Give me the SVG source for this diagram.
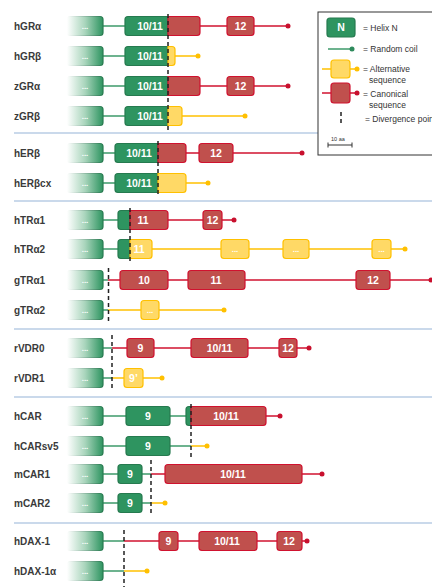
<svg xmlns="http://www.w3.org/2000/svg" width="432" height="587" viewBox="0 0 432 587">
<defs>
<linearGradient id="gf" x1="0" y1="0" x2="1" y2="0">
<stop offset="0" stop-color="#ffffff"/>
<stop offset="0.5" stop-color="#a9d5bc"/>
<stop offset="1" stop-color="#2e9460"/>
</linearGradient>
<linearGradient id="gs" x1="0" y1="0" x2="1" y2="0">
<stop offset="0" stop-color="#ffffff"/>
<stop offset="1" stop-color="#267a4f"/>
</linearGradient>
</defs>
<style>
.grad{fill:url(#gf);stroke:url(#gs);stroke-width:1.2}
.g{fill:#2e9460;stroke:#267a4f;stroke-width:1.2}
.r{fill:#c0504d;stroke:#d0122f;stroke-width:1.2}
.y{fill:#ffd966;stroke:#ffc000;stroke-width:1.2}
.lg{stroke:#3d9a6a;stroke-width:1.5;fill:none}
.lr{stroke:#d0122f;stroke-width:1.5;fill:none}
.ly{stroke:#ffc000;stroke-width:1.5;fill:none}
.dg{fill:#2e8a5c}
.dr{fill:#c8102e}
.dy{fill:#ffc000}
.dash{stroke:#222;stroke-width:1.5;stroke-dasharray:4 3}
.sep{stroke:#95b3d7;stroke-width:1.2}
.lab{font-family:"Liberation Sans",Arial,sans-serif;font-weight:bold;font-size:10px;fill:#3a3a3a}
.bt{font-family:"Liberation Sans",Arial,sans-serif;font-weight:bold;font-size:10.5px;fill:#fff;text-anchor:middle}
.dots{font-family:"Liberation Sans",Arial,sans-serif;font-weight:bold;font-size:8px;fill:#fff;text-anchor:middle}
.leg{font-family:"Liberation Sans",Arial,sans-serif;font-size:8.5px;fill:#333}
</style>
<rect width="432" height="587" fill="#fff"/>

<g id="separators">
<line class="sep" x1="14" y1="133" x2="318" y2="133"/>
<line class="sep" x1="14" y1="201" x2="432" y2="201"/>
<line class="sep" x1="14" y1="329" x2="432" y2="329"/>
<line class="sep" x1="14" y1="397" x2="432" y2="397"/>
<line class="sep" x1="14" y1="523" x2="432" y2="523"/>
</g>

<g id="connectors">
<line class="lg" x1="103" y1="26" x2="125" y2="26"/>
<line class="lr" x1="200" y1="26" x2="227" y2="26"/>
<line class="lr" x1="254" y1="26" x2="288" y2="26"/><circle class="dr" cx="288" cy="26" r="2.5"/>
<line class="lg" x1="103" y1="56" x2="125" y2="56"/>
<line class="ly" x1="175" y1="56" x2="198" y2="56"/><circle class="dy" cx="198" cy="56" r="2.5"/>
<line class="lg" x1="103" y1="86" x2="125" y2="86"/>
<line class="lr" x1="200" y1="86" x2="227" y2="86"/>
<line class="lr" x1="254" y1="86" x2="288" y2="86"/><circle class="dr" cx="288" cy="86" r="2.5"/>
<line class="lg" x1="103" y1="116" x2="125" y2="116"/>
<line class="ly" x1="182" y1="116" x2="245" y2="116"/><circle class="dy" cx="245" cy="116" r="2.5"/>
<line class="lg" x1="103" y1="153" x2="115" y2="153"/>
<line class="lr" x1="186" y1="153" x2="199" y2="153"/>
<line class="lr" x1="233" y1="153" x2="302" y2="153"/><circle class="dr" cx="302" cy="153" r="2.5"/>
<line class="lg" x1="103" y1="183" x2="115" y2="183"/>
<line class="ly" x1="186" y1="183" x2="208" y2="183"/><circle class="dy" cx="208" cy="183" r="2.5"/>
<line class="lg" x1="103" y1="220" x2="118" y2="220"/>
<line class="lr" x1="168" y1="220" x2="203" y2="220"/>
<line class="lr" x1="222" y1="220" x2="234" y2="220"/><circle class="dr" cx="234" cy="220" r="2.5"/>
<line class="lg" x1="103" y1="249" x2="118" y2="249"/>
<line class="ly" x1="152" y1="249" x2="221" y2="249"/>
<line class="ly" x1="249" y1="249" x2="283" y2="249"/>
<line class="ly" x1="309" y1="249" x2="372" y2="249"/>
<line class="ly" x1="391" y1="249" x2="405" y2="249"/><circle class="dy" cx="405" cy="249" r="2.5"/>
<line class="lg" x1="103" y1="280" x2="108" y2="280"/>
<line class="lr" x1="108" y1="280" x2="120" y2="280"/>
<line class="lr" x1="168" y1="280" x2="188" y2="280"/>
<line class="lr" x1="245" y1="280" x2="356" y2="280"/>
<line class="lr" x1="390" y1="280" x2="431" y2="280"/><circle class="dr" cx="431" cy="280" r="2.5"/>
<line class="lg" x1="103" y1="310" x2="108" y2="310"/>
<line class="ly" x1="108" y1="310" x2="141" y2="310"/>
<line class="ly" x1="159" y1="310" x2="224" y2="310"/><circle class="dy" cx="224" cy="310" r="2.5"/>
<line class="lg" x1="103" y1="348" x2="112" y2="348"/>
<line class="lr" x1="112" y1="348" x2="127" y2="348"/>
<line class="lr" x1="154" y1="348" x2="191" y2="348"/>
<line class="lr" x1="248" y1="348" x2="279" y2="348"/>
<line class="lr" x1="297" y1="348" x2="309" y2="348"/><circle class="dr" cx="309" cy="348" r="2.5"/>
<line class="lg" x1="103" y1="378" x2="112" y2="378"/>
<line class="ly" x1="112" y1="378" x2="124" y2="378"/>
<line class="ly" x1="143" y1="378" x2="162" y2="378"/><circle class="dy" cx="162" cy="378" r="2.5"/>
<line class="lg" x1="103" y1="416" x2="126" y2="416"/>
<line class="lg" x1="170" y1="416" x2="186" y2="416"/>
<line class="lr" x1="266" y1="416" x2="280" y2="416"/><circle class="dr" cx="280" cy="416" r="2.5"/>
<line class="lg" x1="103" y1="446" x2="126" y2="446"/>
<line class="lg" x1="170" y1="446" x2="191" y2="446"/>
<line class="ly" x1="191" y1="446" x2="207" y2="446"/><circle class="dy" cx="207" cy="446" r="2.5"/>
<line class="lg" x1="103" y1="474" x2="118" y2="474"/>
<line class="lg" x1="142" y1="474" x2="151" y2="474"/>
<line class="lr" x1="151" y1="474" x2="165" y2="474"/>
<line class="lr" x1="302" y1="474" x2="322" y2="474"/><circle class="dr" cx="322" cy="474" r="2.5"/>
<line class="lg" x1="103" y1="503" x2="118" y2="503"/>
<line class="lg" x1="142" y1="503" x2="151" y2="503"/>
<line class="ly" x1="151" y1="503" x2="165" y2="503"/><circle class="dy" cx="165" cy="503" r="2.5"/>
<line class="lg" x1="103" y1="541" x2="124" y2="541"/>
<line class="lr" x1="124" y1="541" x2="159" y2="541"/>
<line class="lr" x1="178" y1="541" x2="199" y2="541"/>
<line class="lr" x1="257" y1="541" x2="277" y2="541"/>
<line class="lr" x1="302" y1="541" x2="307" y2="541"/><circle class="dr" cx="307" cy="541" r="2.5"/>
<line class="lg" x1="103" y1="571" x2="124" y2="571"/>
<line class="ly" x1="124" y1="571" x2="147" y2="571"/><circle class="dy" cx="147" cy="571" r="2.5"/>
</g>

<g id="hGRa">
<text class="lab" x="14" y="30">hGRα</text>
<rect class="grad" x="67" y="16.5" width="36" height="19" rx="3"/><text class="dots" x="85" y="29">...</text>
<path class="g" d="M168 16.5H128Q125 16.5 125 19.5V32.5Q125 35.5 128 35.5H168Z"/>
<path class="r" d="M168 16.5H197Q200 16.5 200 19.5V32.5Q200 35.5 197 35.5H168Z"/>
<text class="bt" x="150" y="30">10/11</text>
<rect class="r" x="227" y="16.5" width="27" height="19" rx="3"/><text class="bt" x="240.5" y="30">12</text>
</g>
<g id="hGRb">
<text class="lab" x="14" y="60">hGRβ</text>
<rect class="grad" x="67" y="46.5" width="36" height="19" rx="3"/><text class="dots" x="85" y="59">...</text>
<path class="g" d="M168 46.5H128Q125 46.5 125 49.5V62.5Q125 65.5 128 65.5H168Z"/>
<path class="y" d="M168 46.5H172Q175 46.5 175 49.5V62.5Q175 65.5 172 65.5H168Z"/>
<text class="bt" x="150" y="60">10/11</text>
</g>
<g id="zGRa">
<text class="lab" x="14" y="90">zGRα</text>
<rect class="grad" x="67" y="76.5" width="36" height="19" rx="3"/><text class="dots" x="85" y="89">...</text>
<path class="g" d="M168 76.5H128Q125 76.5 125 79.5V92.5Q125 95.5 128 95.5H168Z"/>
<path class="r" d="M168 76.5H197Q200 76.5 200 79.5V92.5Q200 95.5 197 95.5H168Z"/>
<text class="bt" x="150" y="90">10/11</text>
<rect class="r" x="227" y="76.5" width="27" height="19" rx="3"/><text class="bt" x="240.5" y="90">12</text>
</g>
<g id="zGRb">
<text class="lab" x="14" y="120">zGRβ</text>
<rect class="grad" x="67" y="106.5" width="36" height="19" rx="3"/><text class="dots" x="85" y="119">...</text>
<path class="g" d="M168 106.5H128Q125 106.5 125 109.5V122.5Q125 125.5 128 125.5H168Z"/>
<path class="y" d="M168 106.5H179Q182 106.5 182 109.5V122.5Q182 125.5 179 125.5H168Z"/>
<text class="bt" x="150" y="120">10/11</text>
</g>

<g id="hERb">
<text class="lab" x="14" y="157">hERβ</text>
<rect class="grad" x="67" y="143.5" width="36" height="19" rx="3"/><text class="dots" x="85" y="156">...</text>
<path class="g" d="M158 143.5H118Q115 143.5 115 146.5V159.5Q115 162.5 118 162.5H158Z"/>
<path class="r" d="M158 143.5H183Q186 143.5 186 146.5V159.5Q186 162.5 183 162.5H158Z"/>
<text class="bt" x="139" y="157">10/11</text>
<rect class="r" x="199" y="143.5" width="34" height="19" rx="3"/><text class="bt" x="216" y="157">12</text>
</g>
<g id="hERbcx">
<text class="lab" x="14" y="187">hERβcx</text>
<rect class="grad" x="67" y="173.5" width="36" height="19" rx="3"/><text class="dots" x="85" y="186">...</text>
<path class="g" d="M158 173.5H118Q115 173.5 115 176.5V189.5Q115 192.5 118 192.5H158Z"/>
<path class="y" d="M158 173.5H183Q186 173.5 186 176.5V189.5Q186 192.5 183 192.5H158Z"/>
<text class="bt" x="139" y="187">10/11</text>
</g>

<g id="hTRa1">
<text class="lab" x="14" y="224">hTRα1</text>
<rect class="grad" x="67" y="210.5" width="36" height="19" rx="3"/><text class="dots" x="85" y="223">...</text>
<path class="g" d="M130 210.5H121Q118 210.5 118 213.5V226.5Q118 229.5 121 229.5H130Z"/>
<path class="r" d="M130 210.5H165Q168 210.5 168 213.5V226.5Q168 229.5 165 229.5H130Z"/>
<text class="bt" x="143" y="224">11</text>
<rect class="r" x="203" y="210.5" width="19" height="19" rx="3"/><text class="bt" x="212.5" y="224">12</text>
</g>
<g id="hTRa2">
<text class="lab" x="14" y="253">hTRα2</text>
<rect class="grad" x="67" y="239.5" width="36" height="19" rx="3"/><text class="dots" x="85" y="252">...</text>
<path class="g" d="M130 239.5H121Q118 239.5 118 242.5V255.5Q118 258.5 121 258.5H130Z"/>
<path class="y" d="M130 239.5H149Q152 239.5 152 242.5V255.5Q152 258.5 149 258.5H130Z"/>
<text class="bt" x="139" y="253">11</text>
<rect class="y" x="221" y="239.5" width="28" height="19" rx="3"/><text class="dots" x="235" y="252">...</text>
<rect class="y" x="283" y="239.5" width="26" height="19" rx="3"/><text class="dots" x="296" y="252">...</text>
<rect class="y" x="372" y="239.5" width="19" height="19" rx="3"/><text class="dots" x="381.5" y="252">...</text>
</g>
<g id="gTRa1">
<text class="lab" x="14" y="284">gTRα1</text>
<rect class="grad" x="67" y="270.5" width="36" height="19" rx="3"/><text class="dots" x="85" y="283">...</text>
<rect class="r" x="120" y="270.5" width="48" height="19" rx="3"/><text class="bt" x="144" y="284">10</text>
<rect class="r" x="188" y="270.5" width="57" height="19" rx="3"/><text class="bt" x="216" y="284">11</text>
<rect class="r" x="356" y="270.5" width="34" height="19" rx="3"/><text class="bt" x="373" y="284">12</text>
</g>
<g id="gTRa2">
<text class="lab" x="14" y="314">gTRα2</text>
<rect class="grad" x="67" y="300.5" width="36" height="19" rx="3"/><text class="dots" x="85" y="313">...</text>
<rect class="y" x="141" y="300.5" width="18" height="19" rx="3"/><text class="dots" x="150" y="313">...</text>
</g>

<g id="rVDR0">
<text class="lab" x="14" y="352">rVDR0</text>
<rect class="grad" x="67" y="338.5" width="36" height="19" rx="3"/><text class="dots" x="85" y="351">...</text>
<rect class="r" x="127" y="338.5" width="27" height="19" rx="3"/><text class="bt" x="140.5" y="352">9</text>
<rect class="r" x="191" y="338.5" width="57" height="19" rx="3"/><text class="bt" x="219.5" y="352">10/11</text>
<rect class="r" x="279" y="338.5" width="18" height="19" rx="3"/><text class="bt" x="288" y="352">12</text>
</g>
<g id="rVDR1">
<text class="lab" x="14" y="382">rVDR1</text>
<rect class="grad" x="67" y="368.5" width="36" height="19" rx="3"/><text class="dots" x="85" y="381">...</text>
<rect class="y" x="124" y="368.5" width="19" height="19" rx="3"/><text class="bt" x="133.5" y="382">9’</text>
</g>

<g id="hCAR">
<text class="lab" x="14" y="420">hCAR</text>
<rect class="grad" x="67" y="406.5" width="36" height="19" rx="3"/><text class="dots" x="85" y="419">...</text>
<rect class="g" x="126" y="406.5" width="44" height="19" rx="3"/><text class="bt" x="148" y="420">9</text>
<path class="g" d="M191 406.5H189Q186 406.5 186 409.5V422.5Q186 425.5 189 425.5H191Z"/>
<path class="r" d="M191 406.5H263Q266 406.5 266 409.5V422.5Q266 425.5 263 425.5H191Z"/>
<text class="bt" x="226" y="420">10/11</text>
</g>
<g id="hCARsv5">
<text class="lab" x="14" y="450">hCARsv5</text>
<rect class="grad" x="67" y="436.5" width="36" height="19" rx="3"/><text class="dots" x="85" y="449">...</text>
<rect class="g" x="126" y="436.5" width="44" height="19" rx="3"/><text class="bt" x="148" y="450">9</text>
</g>
<g id="mCAR1">
<text class="lab" x="14" y="478">mCAR1</text>
<rect class="grad" x="67" y="464.5" width="36" height="19" rx="3"/><text class="dots" x="85" y="477">...</text>
<rect class="g" x="118" y="464.5" width="24" height="19" rx="3"/><text class="bt" x="130" y="478">9</text>
<rect class="r" x="165" y="464.5" width="137" height="19" rx="3"/><text class="bt" x="233" y="478">10/11</text>
</g>
<g id="mCAR2">
<text class="lab" x="14" y="507">mCAR2</text>
<rect class="grad" x="67" y="493.5" width="36" height="19" rx="3"/><text class="dots" x="85" y="506">...</text>
<rect class="g" x="118" y="493.5" width="24" height="19" rx="3"/><text class="bt" x="130" y="507">9</text>
</g>

<g id="hDAX-1">
<text class="lab" x="14" y="545">hDAX-1</text>
<rect class="grad" x="67" y="531.5" width="36" height="19" rx="3"/><text class="dots" x="85" y="544">...</text>
<rect class="r" x="159" y="531.5" width="19" height="19" rx="3"/><text class="bt" x="168.5" y="545">9</text>
<rect class="r" x="199" y="531.5" width="58" height="19" rx="3"/><text class="bt" x="227" y="545">10/11</text>
<rect class="r" x="277" y="531.5" width="25" height="19" rx="3"/><text class="bt" x="289" y="545">12</text>
</g>
<g id="hDAX-1a">
<text class="lab" x="14" y="575">hDAX-1α</text>
<rect class="grad" x="67" y="561.5" width="36" height="19" rx="3"/><text class="dots" x="85" y="574">...</text>
</g>

<g id="divergence">
<line class="dash" x1="168" y1="14" x2="168" y2="132"/>
<line class="dash" x1="158" y1="141" x2="158" y2="196"/>
<line class="dash" x1="130" y1="208" x2="130" y2="263"/>
<line class="dash" x1="108.5" y1="268" x2="108.5" y2="323"/>
<line class="dash" x1="112" y1="335" x2="112" y2="390"/>
<line class="dash" x1="191" y1="404" x2="191" y2="458"/>
<line class="dash" x1="151" y1="460" x2="151" y2="515"/>
<line class="dash" x1="124" y1="530" x2="124" y2="587"/>
</g>

<g id="legend">
<rect x="318" y="12" width="130" height="143" fill="#fff" stroke="#333" stroke-width="1"/>
<rect class="g" x="327" y="18" width="28" height="19" rx="3"/><text class="bt" x="341" y="31">N</text>
<text class="leg" x="363" y="31">= Helix N</text>
<line class="lg" x1="328" y1="49" x2="352" y2="49"/><circle class="dg" cx="352" cy="49" r="2.5"/>
<text class="leg" x="363" y="52">= Random coil</text>
<line class="ly" x1="322" y1="69" x2="357" y2="69"/>
<rect class="y" x="331" y="60" width="19" height="18" rx="3"/><circle class="dy" cx="357" cy="69" r="2.5"/>
<text class="leg" x="363" y="72">= Alternative</text>
<text class="leg" x="369" y="83">sequence</text>
<line class="lr" x1="322" y1="93" x2="357" y2="93"/>
<rect class="r" x="331" y="83" width="19" height="20" rx="3"/><circle class="dr" cx="357" cy="93" r="2.5"/>
<text class="leg" x="363" y="97">= Canonical</text>
<text class="leg" x="369" y="108">sequence</text>
<line class="dash" x1="341" y1="112" x2="341" y2="126"/>
<text class="leg" x="365" y="122">= Divergence point</text>
<text class="leg" x="331" y="141" style="font-size:5.5px">10 aa</text>
<line x1="328" y1="145" x2="352" y2="145" stroke="#333" stroke-width="1"/>
<line x1="328" y1="142.5" x2="328" y2="147.5" stroke="#333" stroke-width="1"/>
<line x1="352" y1="142.5" x2="352" y2="147.5" stroke="#333" stroke-width="1"/>
</g>
</svg>
